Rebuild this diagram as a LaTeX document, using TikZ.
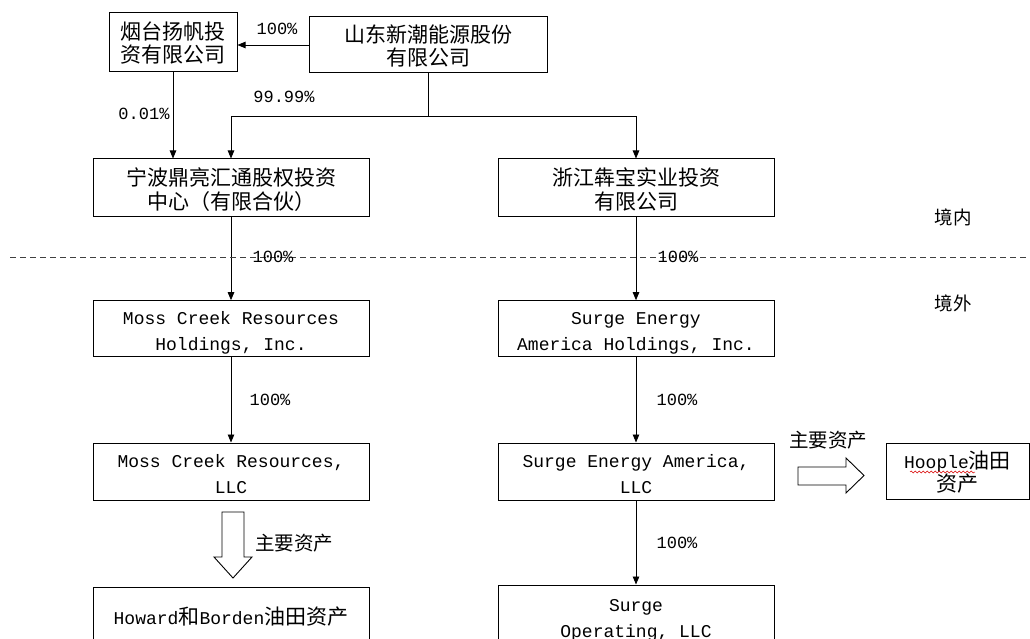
\documentclass[tikz,border=0pt]{standalone}
\usepackage{fontspec}
\setmainfont{Liberation Mono}
\newfontfamily\cjk{Noto Sans CJK SC}
\usetikzlibrary{arrows.meta,decorations.pathmorphing}
\begin{document}
\begin{tikzpicture}[x=1pt,y=-1pt,
  box/.style={draw,line width=1pt,minimum width=276pt,minimum height=57pt,inner sep=0pt,align=center},
  lbox/.style={box,font=\fontsize{18}{26}\selectfont,text height=44pt,text depth=0pt},
  cbox/.style={box,font=\cjk\fontsize{21}{24}\selectfont,text height=44pt,text depth=0pt},
  lbl/.style={inner sep=1pt,font=\fontsize{17}{20}\selectfont},
  clbl/.style={inner sep=1pt,font=\cjk\fontsize{19.5}{22}\selectfont},
  conn/.style={line width=0.9pt,-{Triangle[length=8pt,width=6.5pt]}},
  plain/.style={line width=0.9pt},
  blk/.style={draw,line width=0.9pt,fill=white}]
\useasboundingbox (0,0) rectangle (1030,639);
\clip (0,0) rectangle (1030,639);
% boxes
\node[cbox,minimum width=128pt,minimum height=59pt,font=\cjk\fontsize{21}{23}\selectfont,text height=40pt] (yt) at (173,42.5) {烟台扬帆投\\资有限公司};
\node[cbox,minimum width=238pt,minimum height=56pt,font=\cjk\fontsize{21}{23}\selectfont,text height=41pt] (sd) at (428.5,45) {山东新潮能源股份\\有限公司};
\node[cbox] (nb) at (231,187.5) {宁波鼎亮汇通股权投资\\中心（有限合伙）};
\node[cbox] (zj) at (636,187.5) {浙江犇宝实业投资\\有限公司};
\node[lbox,minimum height=56pt] (mch) at (231,328.7) {Moss Creek Resources\\Holdings, Inc.};
\node[lbox,minimum height=56pt] (seh) at (636,328.7) {Surge Energy\\America Holdings, Inc.};
\node[lbox] (mcl) at (231,471.5) {Moss Creek Resources,\\LLC};
\node[lbox] (sel) at (636,471.5) {Surge Energy America,\\LLC};
\node[box,minimum width=143pt,minimum height=56pt,font=\fontsize{18}{23}\selectfont,text height=41pt,text depth=0pt] (hp) at (957.5,471) {Hoople{\cjk\fontsize{21}{23}\selectfont 油田}\\{\cjk\fontsize{21}{23}\selectfont 资产}};
\node[box,minimum height=60pt,font=\fontsize{18}{24}\selectfont] (hw) at (231,617) {Howard{\cjk\fontsize{21}{24}\selectfont 和}Borden{\cjk\fontsize{21}{24}\selectfont 油田资产}};
\node[lbox,minimum height=60pt] (so) at (636,615) {Surge\\Operating, LLC};
% spell-check underline
\coordinate (u1) at (910,472);
\coordinate (u2) at (975,472);
\draw[red!85!black,line width=0.5pt,decorate,decoration={snake,amplitude=1pt,segment length=4pt}] (u1) -- (u2);
% connectors
\draw[conn] (sd.west) -- (sd.west -| yt.east);
\draw[conn] (yt.south) -- (yt.south |- nb.north);
\coordinate (j) at (428.5,116);
\draw[plain] (sd.south) -- (j);
\draw[conn] (j) -| (nb.north);
\draw[conn] (j) -| (zj.north);
\draw[conn] (nb.south) -- (mch.north);
\draw[conn] (zj.south) -- (seh.north);
\draw[conn] (mch.south) -- (mcl.north);
\draw[conn] (seh.south) -- (sel.north);
\draw[conn] (sel.south) -- (so.north);
% dashed border
\coordinate (d1) at (10,257);
\coordinate (d2) at (1030,257);
\draw[line width=0.9pt,dash pattern=on 6pt off 4pt,black!75] (d1) -- (d2);
% labels
\node[lbl] (l1) at (277,29) {100\%};
\node[lbl] (l2) at (284,97) {99.99\%};
\node[lbl] (l3) at (144,114) {0.01\%};
\node[lbl] (l4) at (273,257) {100\%};
\node[lbl] (l5) at (678,257) {100\%};
\node[lbl] (l6) at (270,400) {100\%};
\node[lbl] (l7) at (677,400) {100\%};
\node[lbl] (l8) at (677,543) {100\%};
\node[clbl,font=\cjk\fontsize{18.5}{20}\selectfont] (jn) at (953,217) {境内};
\node[clbl,font=\cjk\fontsize{18.5}{20}\selectfont] (jw) at (953,303) {境外};
\node[clbl] (a1) at (828,440) {主要资产};
\node[clbl] (a2) at (294,543) {主要资产};
% block arrows
\draw[blk] (798,467) -- (846,467) -- (846,458) -- (864,475.5) -- (846,493) -- (846,485) -- (798,485) -- cycle;
\draw[blk] (222,512) -- (244,512) -- (244,557) -- (252,557) -- (233,578) -- (214,557) -- (222,557) -- cycle;
\end{tikzpicture}
\end{document}
